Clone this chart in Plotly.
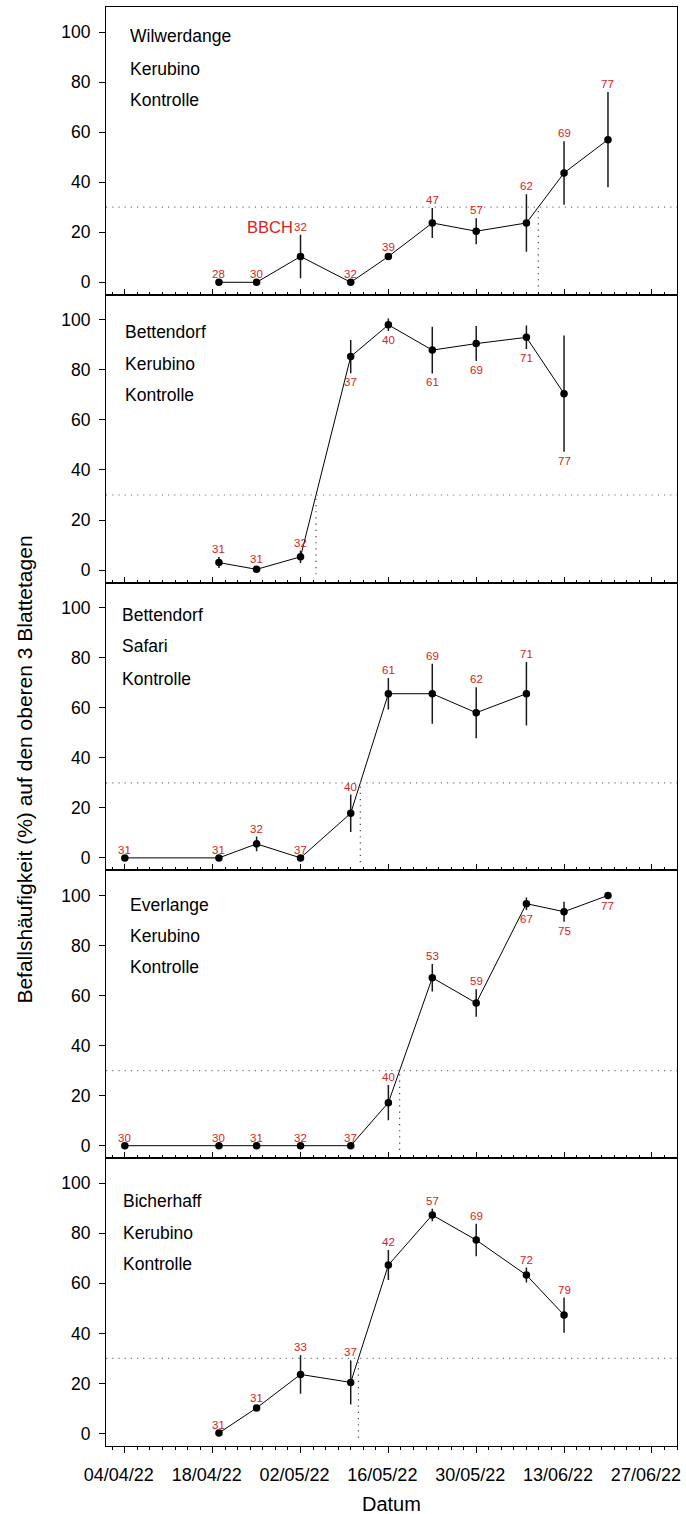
import pandas as pd
import plotly.graph_objects as go
from plotly.subplots import make_subplots

# ---------------- data ----------------
site = ["Wilwerdange", "Bettendorf", "Bettendorf", "Everlange", "Bicherhaff"]
variety = ["Kerubino", "Kerubino", "Safari", "Kerubino", "Kerubino"]
treatment = ["Kontrolle", "Kontrolle", "Kontrolle", "Kontrolle", "Kontrolle"]

dates_1 = ["2022-04-19", "2022-04-25", "2022-05-02", "2022-05-10", "2022-05-16",
           "2022-05-23", "2022-05-30", "2022-06-07", "2022-06-13", "2022-06-20"]
vals_1 = [0, 0, 10.3, 0, 10.3, 23.7, 20.4, 23.7, 43.7, 57.0]
err_1 = [0, 0, 8.7, 0, 0.6, 6.0, 5.2, 11.5, 12.7, 19.0]
bbch_1 = [28, 30, 32, 32, 39, 47, 57, 62, 69, 77]
side_1 = ["a", "a", "a", "a", "a", "a", "a", "a", "a", "a"]

dates_2 = ["2022-04-19", "2022-04-25", "2022-05-02", "2022-05-10", "2022-05-16",
           "2022-05-23", "2022-05-30", "2022-06-07", "2022-06-13"]
vals_2 = [3.0, 0.3, 5.3, 85.3, 98.0, 87.9, 90.5, 93.0, 70.5]
err_2 = [2.2, 1.0, 2.5, 6.6, 2.5, 9.3, 7.0, 4.7, 23.2]
bbch_2 = [31, 31, 32, 37, 40, 61, 69, 71, 77]
side_2 = ["a", "a", "a", "b", "b", "b", "b", "b", "b"]

dates_3 = ["2022-04-04", "2022-04-19", "2022-04-25", "2022-05-02", "2022-05-10",
           "2022-05-16", "2022-05-23", "2022-05-30", "2022-06-07"]
vals_3 = [0, 0, 5.6, 0, 17.8, 65.6, 65.6, 58.0, 65.6]
err_3 = [0, 0, 2.9, 0, 7.5, 6.3, 12.0, 10.2, 12.7]
bbch_3 = [31, 31, 32, 37, 40, 61, 69, 62, 71]
side_3 = ["a", "a", "a", "a", "a", "a", "a", "a", "a"]

dates_4 = ["2022-04-04", "2022-04-19", "2022-04-25", "2022-05-02", "2022-05-10",
           "2022-05-16", "2022-05-23", "2022-05-30", "2022-06-07", "2022-06-13", "2022-06-20"]
vals_4 = [0, 0, 0, 0, 0, 17.2, 67.1, 57.0, 96.7, 93.5, 100.0]
err_4 = [0, 0, 0, 0, 0, 7.0, 5.5, 5.5, 2.5, 4.0, 0.5]
bbch_4 = [30, 30, 31, 32, 37, 40, 53, 59, 67, 75, 77]
side_4 = ["a", "a", "a", "a", "a", "a", "a", "a", "b", "b", "b"]

dates_5 = ["2022-04-19", "2022-04-25", "2022-05-02", "2022-05-10", "2022-05-16",
           "2022-05-23", "2022-05-30", "2022-06-07", "2022-06-13"]
vals_5 = [0.2, 10.2, 23.6, 20.4, 67.3, 87.3, 77.3, 63.3, 47.3]
err_5 = [0, 0.8, 7.7, 8.8, 6.0, 2.5, 6.5, 3.0, 7.0]
bbch_5 = [31, 31, 33, 37, 42, 57, 69, 72, 79]
side_5 = ["a", "a", "a", "a", "a", "a", "a", "a", "a"]

threshold = 30
y_ticks = [0, 20, 40, 60, 80, 100]
x_range = ["2022-04-01", "2022-07-01"]

panels = [
    (dates_1, vals_1, err_1, bbch_1, side_1),
    (dates_2, vals_2, err_2, bbch_2, side_2),
    (dates_3, vals_3, err_3, bbch_3, side_3),
    (dates_4, vals_4, err_4, bbch_4, side_4),
    (dates_5, vals_5, err_5, bbch_5, side_5),
]

# ---------------- style / layout settings ----------------
FONT = "Arial, Liberation Sans, sans-serif"
RED = "#dd2020"
W, H = 686, 1514
ML, MR, MT, MB = 106, 5, 7, 68
PH = (H - MT - MB) / 5.0
PW = W - ML - MR
label_x_px = [128, 123, 120, 128, 121]          # panel text left edge (px)
label_y_px = [[29, 62, 93], [37, 69.5, 100], [32.3, 63.3, 96.7],
              [35, 66, 97], [42.7, 75, 105.7]]   # px below panel top


def crossing(dates, vals, thr):
    for i in range(1, len(vals)):
        if vals[i - 1] < thr <= vals[i]:
            t0, t1 = pd.Timestamp(dates[i - 1]), pd.Timestamp(dates[i])
            frac = (thr - vals[i - 1]) / (vals[i] - vals[i - 1])
            return t0 + (t1 - t0) * frac
    return None


fig = make_subplots(rows=5, cols=1, shared_xaxes=True, vertical_spacing=0)

annotations = []
shapes = []
for k, (d, v, e, b, s) in enumerate(panels):
    row = k + 1
    fig.add_trace(go.Scatter(
        x=d, y=v, mode="lines+markers",
        line=dict(color="black", width=1),
        marker=dict(color="black", size=7.5),
        error_y=dict(type="data", array=e, width=0, thickness=1.5, color="#1a1a1a"),
        showlegend=False,
    ), row=row, col=1)

    xr = "x" if row == 1 else f"x{row}"
    yr = "y" if row == 1 else f"y{row}"
    for xi, vi, ei, bi, si in zip(d, v, e, b, s):
        if si == "a":
            annotations.append(dict(x=xi, y=vi + ei, xref=xr, yref=yr, text=str(bi),
                                    showarrow=False, yanchor="middle", yshift=8,
                                    font=dict(size=11.5, color=RED, family=FONT)))
        else:
            annotations.append(dict(x=xi, y=vi - ei, xref=xr, yref=yr, text=str(bi),
                                    showarrow=False, yanchor="middle", yshift=-9,
                                    font=dict(size=11.5, color=RED, family=FONT)))
    if row == 1:
        annotations.append(dict(x=d[2], y=v[2] + e[2], xref=xr, yref=yr, text="BBCH",
                                showarrow=False, yanchor="middle", xanchor="right",
                                yshift=8, xshift=-6,
                                font=dict(size=16.5, color=RED, family=FONT)))

    texts = [site[k], variety[k], treatment[k]]
    for t, ypx in zip(texts, label_y_px[k]):
        annotations.append(dict(x=(label_x_px[k] - ML) / PW, xref="paper",
                                y=1 - ypx / PH, yref=f"{yr} domain",
                                text=t, showarrow=False, xanchor="left", yanchor="middle",
                                font=dict(size=17.5, color="black", family=FONT)))

    shapes.append(dict(type="line", xref=f"{xr} domain", yref=yr, x0=0, x1=1,
                       y0=threshold, y1=threshold,
                       line=dict(color="#777", width=1.2, dash="1.2px,5px")))
    cx = crossing(d, v, threshold)
    if cx is not None:
        shapes.append(dict(type="line", xref=xr, yref=yr, x0=cx.isoformat(), x1=cx.isoformat(),
                           y0=threshold - 1.5, y1=-2,
                           line=dict(color="#444", width=1.2, dash="1.2px,5px")))

    fig.update_yaxes(row=row, col=1, range=[-5, 110], tickvals=y_ticks,
                     ticks="outside", ticklen=6, tickwidth=1, tickcolor="black",
                     showline=True, linecolor="black", linewidth=1, mirror=True,
                     showgrid=False, zeroline=False, ticklabelstandoff=5,
                     tickfont=dict(size=17.5, family=FONT, color="black"))
    last = row == 5
    fig.update_xaxes(row=row, col=1, type="date", range=x_range,
                     tick0="2022-04-04", dtick=14 * 86400000, tickformat="%d/%m/%y",
                     ticks="outside" if last else "inside", ticklen=6, tickwidth=1,
                     tickcolor="black",
                     minor=dict(dtick=2 * 86400000, tick0="2022-04-02", ticklen=3,
                                ticks="outside" if last else "inside", tickcolor="black",
                                showgrid=False),
                     showline=True, linecolor="black", linewidth=1, mirror=True,
                     showgrid=False, zeroline=False, showticklabels=last,
                     ticklabelstandoff=6, ticklabelshift=-6, ticklabeloverflow="allow",
                     tickfont=dict(size=18, family=FONT, color="black"))

annotations.append(dict(x=0.5, y=0, xref="paper", yref="paper", text="Datum",
                        showarrow=False, yanchor="middle", yshift=-58,
                        font=dict(size=20, family=FONT, color="black")))
annotations.append(dict(x=(23 - ML) / PW, y=1 - (770 - MT) / (H - MT - MB),
                        xref="paper", yref="paper",
                        text="Befallshäufigkeit (%) auf den oberen 3 Blattetagen",
                        textangle=-90, showarrow=False, xanchor="center", yanchor="middle",
                        font=dict(size=21, family=FONT, color="black")))

fig.update_layout(width=W, height=H, margin=dict(l=ML, r=MR, t=MT, b=MB),
                  plot_bgcolor="white", paper_bgcolor="white",
                  annotations=annotations, shapes=shapes, showlegend=False)

fig.write_html("out.html")
